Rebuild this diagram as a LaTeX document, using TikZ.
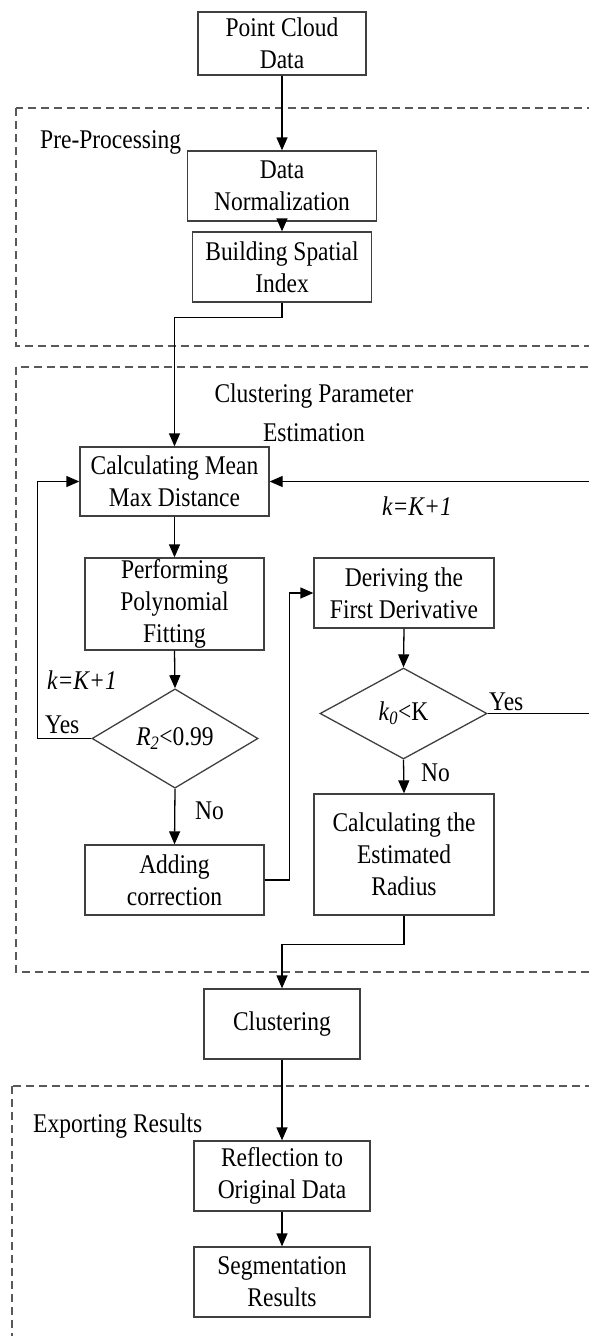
\documentclass[tikz,border=0pt]{standalone}
\usepackage{fontspec}
\setmainfont[FakeStretch=0.87]{Liberation Serif}
\usetikzlibrary{shapes.geometric, arrows.meta}

\tikzset{
    block/.style={draw=black!75, line width=1.3pt, rectangle, inner sep=0pt,
        align=center, font=\fontsize{27}{32}\selectfont},
    decision/.style={draw=black!75, line width=1.3pt, diamond, inner sep=0pt,
        align=center, font=\fontsize{27}{32}\selectfont},
    flow/.style={draw=black, line width=1.3pt, -{Triangle[length=13pt, width=11pt]}},
    group/.style={draw=black!65, line width=1.3pt, dash pattern=on 8pt off 5pt},
    tag/.style={inner sep=0pt, font=\fontsize{27}{32}\selectfont}
}

\begin{document}
\begin{tikzpicture}[x=1pt, y=-1pt]
    % page frame
    \fill[white] (0,0) rectangle (589,1336);
    \useasboundingbox (0,0) rectangle (589,1336);
    \clip (0,0) rectangle (589,1336);

    % dashed stage frames (open to the right)
    \draw[group] (16,108) rectangle (620,346);
    \draw[group] (16,367) rectangle (620,972);
    \draw[group] (12,1086) rectangle (620,1360);

    % stage titles
    \node[tag, anchor=base west] (pre-title) at (40,148) {Pre-Processing};
    \node[tag, align=center, font=\fontsize{27}{39}\selectfont] (est-title) at (314,413)
        {Clustering Parameter\\Estimation};
    \node[tag, anchor=base west] (exp-title) at (33,1132) {Exporting Results};

    % main blocks
    \node[block, minimum width=168pt, minimum height=63pt] (pcd) at (282,43.5) {Point Cloud\\Data};
    \node[block, minimum width=189pt, minimum height=70pt] (norm) at (282,186) {Data\\Normalization};
    \node[block, minimum width=179pt, minimum height=70pt] (index) at (282,267) {Building Spatial\\Index};

    \node[block, minimum width=189pt, minimum height=69pt] (meanmax) at (174.5,481.5) {Calculating Mean\\Max Distance};
    \node[block, minimum width=179pt, minimum height=92pt] (polyfit) at (174.5,604) {Performing\\Polynomial\\Fitting};
    \node[decision, minimum width=166pt, minimum height=91pt] (rtest) at (175,738.5)
        {\textit{R}\textsubscript{\textit{2}}<0.99};
    \node[block, minimum width=179pt, minimum height=70pt] (correct) at (174.5,880) {Adding\\correction};

    \node[block, minimum width=180pt, minimum height=70pt] (deriv) at (404,593) {Deriving the\\First Derivative};
    \node[decision, minimum width=167pt, minimum height=91pt] (ktest) at (403.5,713.5)
        {\textit{k}\textsubscript{\textit{0}}<K};
    \node[block, minimum width=180pt, minimum height=121pt] (radius) at (404,854.5) {Calculating the\\Estimated\\Radius};

    \node[block, minimum width=156pt, minimum height=70pt] (cluster) at (282,1024) {Clustering};
    \node[block, minimum width=176pt, minimum height=70pt] (reflect) at (282,1176) {Reflection to\\Original Data};
    \node[block, minimum width=176pt, minimum height=70pt] (result) at (282,1282) {Segmentation\\Results};

    % branch labels
    \node[tag, anchor=base west] (loop-l) at (47,689) {\textit{k=K+1}};
    \node[tag, anchor=base west] (yes-l) at (45,733) {Yes};
    \node[tag, anchor=base west] (no-l) at (195,819) {No};
    \node[tag, anchor=base west] (loop-r) at (382,515) {\textit{k=K+1}};
    \node[tag, anchor=base west] (yes-r) at (489,710) {Yes};
    \node[tag, anchor=base west] (no-r) at (421,781) {No};

    % connectors
    \draw[flow] (pcd.south) -- (norm.north);
    \draw[flow] (norm.south) -- (index.north);
    \draw[flow] (index.south) -- ++(0,15) -| (meanmax.north);
    \draw[flow] (meanmax.south) -- (polyfit.north);
    \draw[flow] (polyfit.south) -- (rtest.north);
    \draw[flow] (rtest.west) -- ++(-54,0) |- (meanmax.west);
    \draw[flow] (rtest.south) -- (correct.north);
    \draw[flow] (correct.east) -- ++(25,0) |- (deriv.west);
    \draw[flow] (deriv.south) -- (ktest.north);
    \draw[flow] (ktest.east) -- ++(150,0) |- (meanmax.east);
    \draw[flow] (ktest.south) -- (radius.north);
    \draw[flow] (radius.south) -- ++(0,29) -| (cluster.north);
    \draw[flow] (cluster.south) -- (reflect.north);
    \draw[flow] (reflect.south) -- (result.north);
\end{tikzpicture}
\end{document}
